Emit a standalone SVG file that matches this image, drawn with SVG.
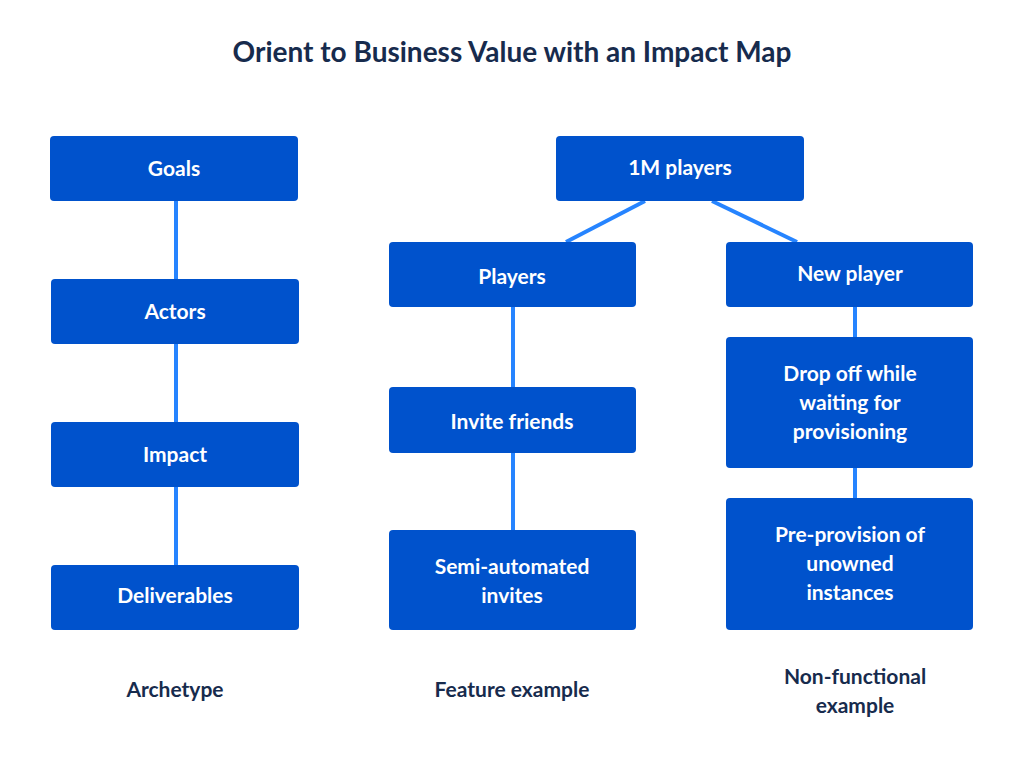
<svg xmlns="http://www.w3.org/2000/svg" width="1024" height="757" viewBox="0 0 1024 757">
<style>
.b{fill:#0052CC}
.t{fill:#fff;font-family:"Lato","Liberation Sans",sans-serif;font-size:21px;font-weight:bold;text-anchor:middle}
.l{fill:#172B4D;font-family:"Lato","Liberation Sans",sans-serif;font-size:21px;font-weight:bold;text-anchor:middle}
.c line{stroke:#2684FF;stroke-width:4}
</style>
<rect width="1024" height="757" fill="#fff"/>
<text x="512" y="62" class="l" style="font-size:28px">Orient to Business Value with an Impact Map</text>
<g class="c">
<line x1="176" y1="201" x2="176" y2="279"/>
<line x1="176" y1="344" x2="176" y2="422"/>
<line x1="176" y1="487" x2="176" y2="565"/>
<line x1="645" y1="201" x2="566" y2="242"/>
<line x1="712" y1="201" x2="797" y2="242"/>
<line x1="513" y1="307" x2="513" y2="387"/>
<line x1="513" y1="453" x2="513" y2="530"/>
<line x1="855" y1="307" x2="855" y2="337"/>
<line x1="855" y1="468" x2="855" y2="498"/>
</g>
<g id="goals"><rect class="b" x="50" y="136" width="248" height="65" rx="4"/><text class="t" x="174" y="176">Goals</text></g>
<g id="actors"><rect class="b" x="51" y="279" width="248" height="65" rx="4"/><text class="t" x="175" y="319">Actors</text></g>
<g id="impact"><rect class="b" x="51" y="422" width="248" height="65" rx="4"/><text class="t" x="175" y="462">Impact</text></g>
<g id="deliverables"><rect class="b" x="51" y="565" width="248" height="65" rx="4"/><text class="t" x="175" y="603">Deliverables</text></g>
<g id="m1"><rect class="b" x="556" y="136" width="248" height="65" rx="4"/><text class="t" x="680" y="175">1M players</text></g>
<g id="players"><rect class="b" x="389" y="242" width="247" height="65" rx="4"/><text class="t" x="512" y="284">Players</text></g>
<g id="newplayer"><rect class="b" x="726" y="242" width="247" height="65" rx="4"/><text class="t" x="850" y="281">New player</text></g>
<g id="invite"><rect class="b" x="389" y="387" width="247" height="66" rx="4"/><text class="t" x="512" y="429">Invite friends</text></g>
<g id="semi"><rect class="b" x="389" y="530" width="247" height="100" rx="4"/><text class="t" x="512" y="574">Semi-automated</text><text class="t" x="512" y="603">invites</text></g>
<g id="drop"><rect class="b" x="726" y="337" width="247" height="131" rx="4"/><text class="t" x="850" y="381">Drop off while</text><text class="t" x="850" y="410">waiting for</text><text class="t" x="850" y="439">provisioning</text></g>
<g id="pre"><rect class="b" x="726" y="498" width="247" height="132" rx="4"/><text class="t" x="850" y="542">Pre-provision of</text><text class="t" x="850" y="571">unowned</text><text class="t" x="850" y="600">instances</text></g>
<text class="l" x="175" y="697">Archetype</text>
<text class="l" x="512" y="697">Feature example</text>
<text class="l" x="855" y="684">Non-functional</text>
<text class="l" x="855" y="713">example</text>
</svg>
